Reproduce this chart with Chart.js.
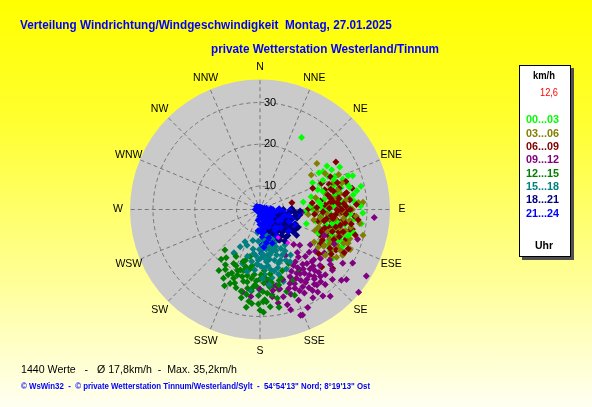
<!DOCTYPE html>
<html>
<head>
<meta charset="utf-8">
<script src="https://cdn.jsdelivr.net/npm/chart.js@4.4.1/dist/chart.umd.min.js"></script>
<style>
  html, body { margin: 0; padding: 0; }
  body {
    width: 592px; height: 407px; overflow: hidden; position: relative;
    background: linear-gradient(to bottom, #ffff00 0%, #ffff30 30%, #ffff9a 70%, #fffff2 100%);
    font-family: "Liberation Sans", Arial, sans-serif;
  }
  canvas { position: absolute; left: 0; top: 0; }
  .t { position: absolute; white-space: pre; transform-origin: 0 50%; }
  .title { color: #0000ff; font-weight: bold; font-size: 13px; line-height: 16px; }
  #legend {
    position: absolute; left: 519px; top: 65px; width: 50px; height: 190px;
    background: #fff; border: 1px solid #000; box-shadow: 3px 3px 0 #505050;
  }
  .lg { font-weight: bold; font-size: 11px; line-height: 14px; }
</style>
</head>
<body>
<canvas id="c" width="592" height="407"></canvas>

<div class="t title" style="left:20px;top:17px" data-w="372">Verteilung Windrichtung/Windgeschwindigkeit  Montag, 27.01.2025</div>
<div class="t title" style="left:211px;top:41px" data-w="228">private Wetterstation Westerland/Tinnum</div>

<div id="legend"></div>
<div class="t lg" style="left:533px;top:68px;color:#000" data-w="22">km/h</div>
<div class="t" style="left:540px;top:85px;color:#ff0000;font-size:11px;line-height:14px" data-w="18">12,6</div>
<div id="legendItems"></div>
<div class="t lg" style="left:535px;top:238px;color:#000" data-w="18">Uhr</div>

<div class="t" style="left:21px;top:362px;font-size:11.5px;line-height:14px;color:#000" data-w="216">1440 Werte   -   Ø 17,8km/h  -  Max. 35,2km/h</div>
<div class="t" style="left:21px;top:380px;font-size:9px;line-height:12px;color:#0000ff;font-weight:bold" data-w="349">© WsWin32  -  © private Wetterstation Tinnum/Westerland/Sylt  -  54°54'13" Nord; 8°19'13" Ost</div>

<script>
// wind direction (deg) and speed (km/h), one list per 3-hour block
var h0003 = [[30,24.3],[77,29.2],[92,29],[117,26.4],[124,25.4],[63,18.5],[59,22],[70,25.5],[74,26.2],[80,14.9],[93,15.2],[98,28.9],[119,20.8],[67,20],[72,23],[78,21],[84,24],[88,19],[95,22],[100,25],[105,23],[110,21],[85,27],[76,17],[66,24],[62,26],[90,17],[102,18],[108,26],[113,24],[81,20],[87,22],[96,27],[71,19],[58,21],[64,22.5],[75,24.5],[83,25.5],[91,23.5],[99,20.5],[104,27.5],[112,19.5],[86,16.5],[79,28],[69,27],[94,25],[101,22],[107,16],[115,22.5],[73,22],[89,26],[82,18.5],[97,19],[77,23.5],[92,21],
  [65,21],[68,23.5],[74,20],[79,22.5],[83,23],[87,24.5],[91,20],[96,21],[103,20.5],[109,22.5],[114,26],[118,23],[121,24],[70,28],[61,24],[57,23.5],[76,26.5],[85,19],[99,23],[106,26.5],[111,25],[93,26],[88,28.5],[81,27]];
var h0306 = [[51,21.9],[56,19.2],[86,29.1],[104,29.8],[98,28.5],[61,22.2],[83,26],[90,20],[95,22],[100,24],[105,21],[110,23],[115,25],[120,22],[92,18],[88,24],[97,26],[102,19],[108,27],[113,20],[118,24.5],[85,21],[93,23.5],[99,21.5],[106,25],[111,18.5],[117,21],[122,26],[79,24],[75,20.5],[70,23],[66,25],[87,17],[96,16],[103,22.5],[109,24],[114,28],[121,19.5],[90,26.5],[94,27.5],[100,20],[107,22],[112,26],[116,23],[125,23.5],[82,22.5],[78,18],[101,17.5],[119,27],
  [88,21],[91,23],[96,24.5],[98,19],[104,25.5],[109,21],[113,22.5],[117,26],[120,24],[123,21],[84,25],[80,21.5],[86,28],[94,20.5],[101,26.5],[107,19],[111,27],[119,22],[124,25],[76,23.5],[72,25],[92,24.5],[97,22.5],[103,24]];
var h0609 = [[58,25.8],[78,12.2],[133,24.6],[129,26.8],[67,20.4],[90,22.8],[73,20.6],[103,26.4],[113,20],[80,23],[85,21],[92,24],[96,19],[100,22],[106,24],[110,26],[84,26],[88,18],[94,27],[98,23],[75,24],[70,22],[65,23],[86,20],[91,25.5],[99,25],[104,21.5],[108,19.5],[115,23],[118,25],[82,19],[87,23.5],[93,21],[97,24.5],[102,27],[77,27],[72,26],[89,16],[95,17.5],[101,18.5],[111,22],[120,21],[125,23],[81,21.5],[79,25.5],[90,26],[105,28],[114,27.5],[83,17],[76,22.5],[68,18],[98,20.5],
  [84,22],[86,24.5],[89,21],[91,23],[93,25],[95,21.5],[97,22],[99,26.5],[101,24],[103,23],[105,25],[107,22.5],[109,24.5],[112,23.5],[116,21],[119,23.5],[122,24.5],[78,21],[80,25],[82,23.5],[74,22],[71,24],[87,27.5],[96,28],[100,20],[106,20.5],[110,20],[117,27],[127,22],[92,19.5],[85,23],[88,25],[90,24],[94,22.5]];
var h0912 = [[122,34.4],[94,31.8],[130,35.2],[158,31.6],[129,31],[107,28.8],[164,28.1],[141,31.1],[131,30.2],[147,13.1],[132,17.2],[143,24],[146,19.5],[139,28.2],[128,25.8],[94,14.4],[125,19.1],[192,24.5],[186,25.3],[172,25.5],[169,27.2],[159,31.5],[163,29.5],[135,22],[138,26],[142,21],[145,23],[148,25],[150,22],[152,27],[136,20],[140,27],[144,26.5],[149,20],[155,24],[160,26],[133,24],[137,23],[141,25],[147,27.5],[153,21],[157,28],[118,27],[124,23],[127,21],[134,28.5],[139,18],[151,17],[166,24],[175,22],[180,23.5],[115,24],[112,21],[120,30],[144,30],[154,30.5],[130,27],[148,22.5],[162,22],[136,16],
  [138,24],[140,23],[142,25.5],[144,22],[146,24.5],[148,26.5],[150,24],[152,23],[154,26],[156,25],[158,23.5],[139,21.5],[141,19],[143,27],[145,28.5],[147,21],[149,29],[151,25.5],[137,25],[135,26.5],[133,22],[131,20],[129,23],[126,25],[123,28],[156,22],[160,24.5],[165,26],[168,23],[171,24]];
var h1215 = [[198,19.6],[177,26],[221,17.2],[147,21.7],[206,18.8],[206,21.8],[178,26.5],[178,29],[158,26.5],[173,21.4],[192,15.9],[208,23],[210,16.6],[174,27.8],[169,28.2],[185,20],[190,22],[195,21],[200,20],[188,18],[182,23],[176,19],[170,23],[165,22],[160,20],[180,21],[186,24],[193,24.5],[199,23],[203,19],[212,20],[215,18.5],[196,17],[183,17.5],[172,25],[167,24],[162,25],[155,23],[152,19],[187,26.5],[181,27],[190,19],[194,18.5],[201,22],[207,17],[214,22],[218,19.5],[175,21],[171,20],[184,22.5],[178,24],[189,25],
  [173,23],[175,24.5],[177,22],[179,20],[181,25],[183,21.5],[185,23],[187,21],[189,23.5],[191,20.5],[193,22],[195,19.5],[197,24],[199,21],[202,23.5],[204,21],[171,22],[169,26],[166,23],[163,21.5],[185,27],[188,28],[180,28.5],[176,26.5],[192,26],[205,24.5],[210,21],[198,17.5]];
var h1518 = [[168,15.5],[150,18.8],[205,12.9],[211,16.5],[166,14.4],[145,14.8],[180,9.3],[185,18.9],[187,23.8],[180,23.7],[162,22.5],[170,13],[175,16],[160,16],[155,13],[172,18],[178,14],[165,12],[158,17.5],[152,15],[148,12.5],[183,12],[190,14],[195,16],[200,13.5],[176,20],[170,21],[163,19],[156,20],[168,10.5],[174,11.5],[160,11],[150,10.5],[186,10],[193,12],[198,18],[182,16.5],[164,17],[154,16.5],[171,15.5],[179,18],[167,19.5],[173,22.5],[157,14],[188,15],[208,14.5],
  [165,15],[167,13.5],[169,16.5],[171,14],[173,17],[175,13],[177,15],[179,16],[181,14],[183,17.5],[162,14],[159,15],[157,12],[161,18],[164,20.5],[170,19],[176,18.5],[178,21],[189,17],[192,19.5],[185,15.5],[153,18],[149,16],[146,17.5],[166,10.5],[172,12]];
var h1821 = [[102,10.5],[144,10.5],[120,14.1],[125,15.1],[98,14],[161,11.7],[110,9],[115,11],[120,10],[125,12],[130,9.5],[135,11.5],[105,12.5],[100,11],[95,9.5],[112,13.5],[118,8],[128,13],[140,12.5],[150,10],[155,12],[108,7.5],[122,7],[132,8],[138,9],[145,7.5],[160,9],[90,10],[88,12],[115,14.5],[103,13.5],[127,10.5],[133,13.5],[148,13],[117,12],[111,10.5],[106,9],[93,12.5],[142,14],[152,8.5],
  [113,10],[116,12.5],[119,11],[121,13],[123,9],[126,11],[129,12],[131,10.5],[134,9.5],[136,12],[139,11],[143,9],[147,11.5],[100,13],[97,11.5],[104,10],[109,12],[124,14],[137,13.5],[151,11],[157,10],[96,13],[92,14]];
var h2124 = [[140,5.1],[119,7.1],[105,9.3],[162,8.3],[321,5.2],[114,13.4],[177,12.9],[178,14.9],[98,13.5],[110,6],[120,6.5],[130,6],[135,7],[145,6.5],[150,7.5],[155,6],[165,7],[170,8],[125,8],[115,9],[100,8],[95,10],[92,11.5],[108,11],[128,10],[138,9.5],[148,9],[158,10],[168,10.5],[175,11],[100,6],[90,7.5],[80,6],[60,5],[200,5.2],[250,4.8],[290,5],[340,5],[20,4.8],[180,6],[160,5],[130,5],[112,8],[142,8],[152,11],[118,11.5],[106,12.5],[132,12],[172,9],[185,9.5],[122,5.5],
  [112,6.5],[116,7],[121,7.5],[126,6.5],[133,7.5],[137,8.5],[141,7],[146,8],[151,8.5],[156,8],[161,7],[166,9],[171,10],[104,7],[98,7],[94,8.5],[103,10.5],[110,10],[117,10],[123,9.5],[131,11],[136,10.5],[144,10.5],[154,9],[163,11.5],[169,12.5],[176,10],[88,9],[85,7],[102,11.5],[113,12],[127,13],[140,10],[148,12],[160,13],[174,13.5],[180,8],[190,7],[70,5.5],[45,5],[230,5],[270,5.5],[310,5.5],[0,5]];
var latest = [[147,12.4],[140,14.8]];

var blocks = [h0003, h0306, h0609, h0912, h1215, h1518, h1821, h2124];
var blockLabels = ["00...03", "03...06", "06...09", "09...12", "12...15", "15...18", "18...21", "21...24"];
var blockColors = ["#00ff00", "#808000", "#800000", "#800080", "#008000", "#008080", "#000080", "#0000ff"];

var dirLabels = ["N","NNE","NE","ENE","E","ESE","SE","SSE","S","SSW","SW","WSW","W","WNW","NW","NNW"];
var ringValues = [10, 20, 30];
var speedMin = 4.4;   // speed at the centre of the rose
var speedMax = 35.5;  // speed at the rim
var R = speedMax - speedMin;

function toXY(list) {
  return list.map(function(p) {
    var a = p[0] * Math.PI / 180, r = p[1] - speedMin;
    return { x: r * Math.sin(a), y: r * Math.cos(a) };
  });
}

function pointSet(list, color, rank) {
  return {
    data: toXY(list),
    backgroundColor: color,
    borderWidth: 0,
    pointStyle: "rectRot",
    pointRadius: 3.5,
    order: 100 - rank   // higher rank drawn later, on top
  };
}

// two layers so that the hour blocks mix a little where they overlap
var datasets = [];
blocks.forEach(function(b, i) {
  var half = Math.ceil(b.length / 2);
  datasets.push(pointSet(b.slice(0, half), blockColors[i], i));
  datasets.push(pointSet(b.slice(half), blockColors[i], 8 + i));
});
var last = pointSet(latest, "#ff00ff", 50);
last.pointRadius = 2.5;
datasets.push(last);

var polarGrid = {
  id: "polarGrid",
  beforeDatasetsDraw: function(chart) {
    var ctx = chart.ctx, xs = chart.scales.x, ys = chart.scales.y;
    var cx = xs.getPixelForValue(0), cy = ys.getPixelForValue(0);
    var rad = function(v) { return xs.getPixelForValue(v - speedMin) - cx; };
    var rim = xs.getPixelForValue(R) - cx;
    ctx.save();
    ctx.fillStyle = "#cacaca";
    ctx.beginPath(); ctx.arc(cx, cy, rim, 0, Math.PI * 2); ctx.fill();

    ctx.strokeStyle = "#777";
    ctx.lineWidth = 1;
    ctx.setLineDash([4, 3]);
    ringValues.forEach(function(v) {
      ctx.beginPath(); ctx.arc(cx, cy, rad(v), 0, Math.PI * 2); ctx.stroke();
    });
    var inner = rad(speedMin + 1.5);
    for (var i = 0; i < 16; i++) {
      var a = i * Math.PI / 8;
      ctx.beginPath();
      ctx.moveTo(cx + inner * Math.sin(a), cy - inner * Math.cos(a));
      ctx.lineTo(cx + rim * Math.sin(a), cy - rim * Math.cos(a));
      ctx.stroke();
    }
    ctx.setLineDash([]);

    ctx.fillStyle = "#000";
    ctx.font = '11px "Liberation Sans", Arial, sans-serif';
    ctx.textAlign = "left"; ctx.textBaseline = "middle";
    ringValues.forEach(function(v) {
      ctx.fillText(String(v), cx + 4, cy - rad(v));
    });

    ctx.font = '10.5px "Liberation Sans", Arial, sans-serif';
    ctx.textAlign = "center";
    var lr = rim + 12;
    dirLabels.forEach(function(l, i) {
      var a = i * Math.PI / 8;
      ctx.fillText(l, cx + lr * Math.sin(a), cy - lr * Math.cos(a));
    });
    ctx.restore();
  }
};

new Chart(document.getElementById("c"), {
  type: "scatter",
  data: { datasets: datasets },
  options: {
    responsive: false,
    animation: false,
    layout: { padding: { left: 130, right: 202, top: 79.5, bottom: 67.5 } },
    scales: {
      x: { min: -R, max: R, display: false },
      y: { min: -R, max: R, display: false }
    },
    plugins: { legend: { display: false }, tooltip: { enabled: false } }
  },
  plugins: [polarGrid]
});

// legend entries
var items = document.getElementById("legendItems");
blockLabels.forEach(function(l, i) {
  var d = document.createElement("div");
  d.className = "t lg";
  d.style.left = "526px";
  d.style.top = (112.3 + i * 13.33) + "px";
  d.style.color = blockColors[i];
  d.setAttribute("data-w", "33");
  d.textContent = l;
  items.appendChild(d);
});

// squeeze texts to the widths seen in the reference
document.querySelectorAll("[data-w]").forEach(function(el) {
  var w = el.getBoundingClientRect().width;
  var target = parseFloat(el.getAttribute("data-w"));
  if (w > 0) el.style.transform = "scaleX(" + (target / w).toFixed(3) + ")";
});
</script>
</body>
</html>
